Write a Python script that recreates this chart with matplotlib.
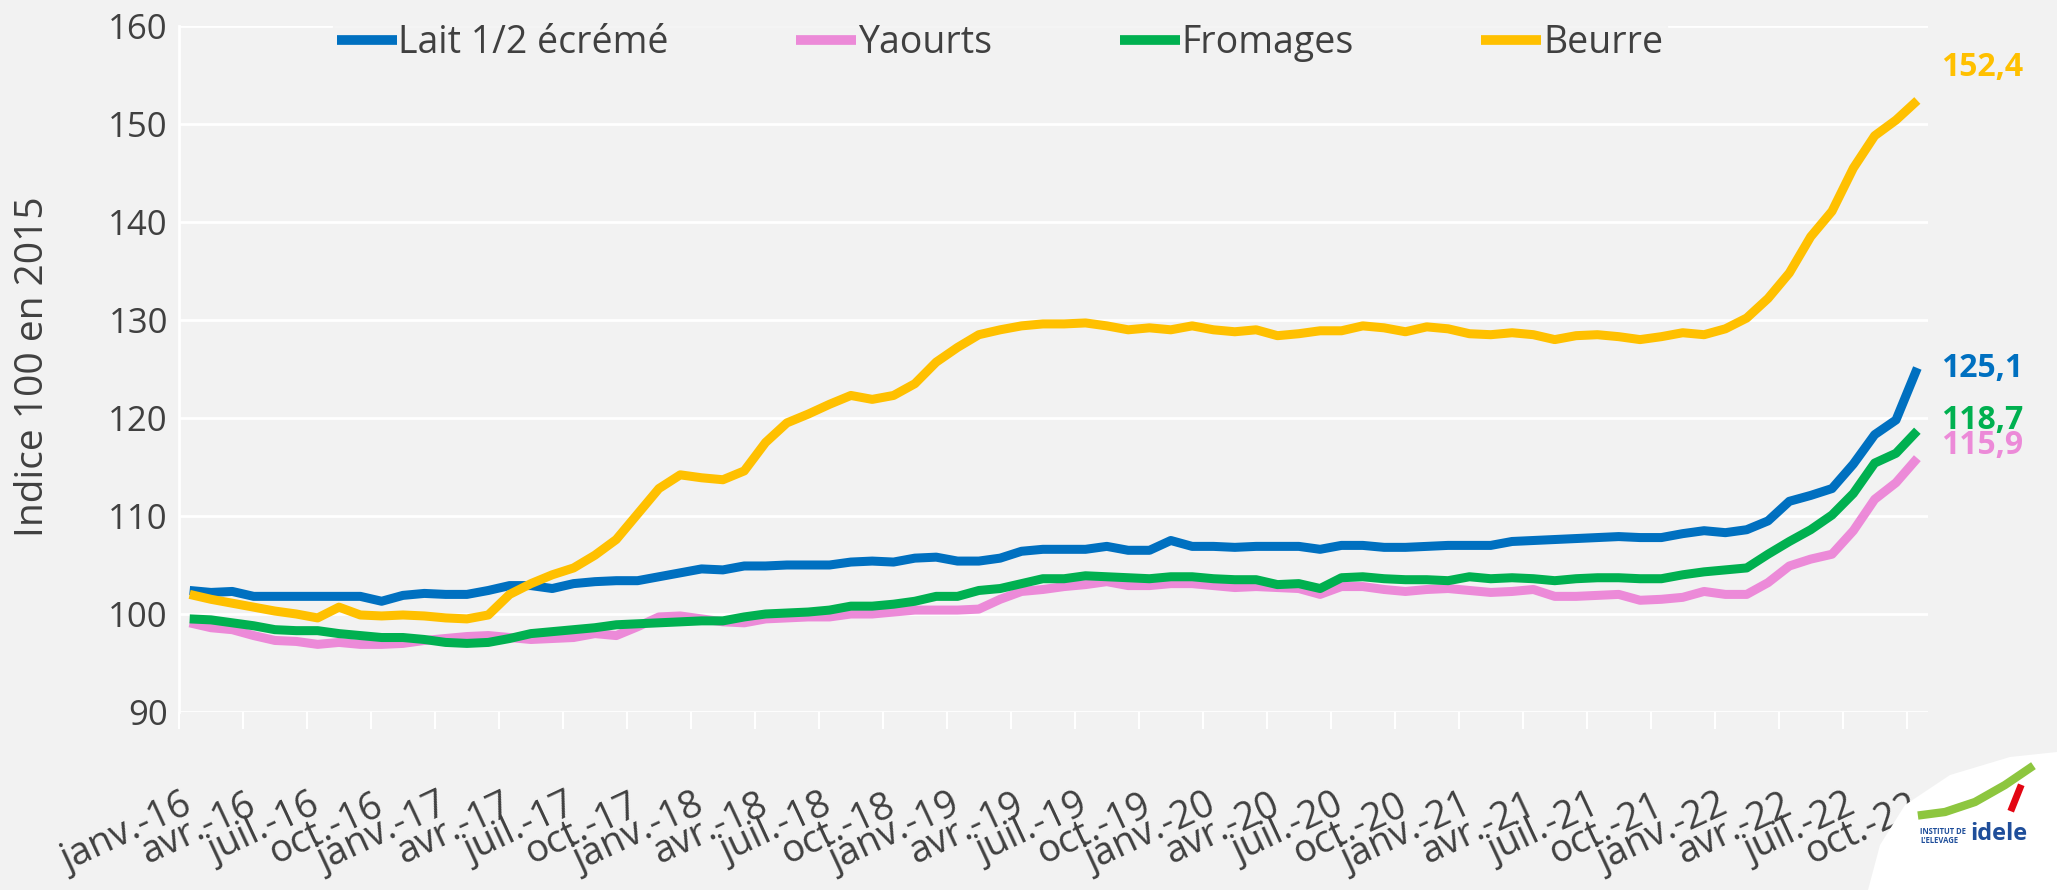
import matplotlib.pyplot as plt
import matplotlib.patches as mpatches
import numpy as np

plt.rcParams['font.family'] = ['Open Sans', 'DejaVu Sans']

# monthly index (base 100 in 2015), janv.-16 .. oct.-22
lait = [102.4, 102.2, 102.3, 101.8, 101.8, 101.8, 101.8, 101.8, 101.8, 101.3,
        101.9, 102.1, 102.0, 102.0, 102.4, 102.9, 102.9, 102.6, 103.1, 103.3,
        103.4, 103.4, 103.8, 104.2, 104.6, 104.5, 104.9, 104.9, 105.0, 105.0,
        105.0, 105.3, 105.4, 105.3, 105.7, 105.8, 105.4, 105.4, 105.7, 106.4,
        106.6, 106.6, 106.6, 106.9, 106.5, 106.5, 107.5, 106.9, 106.9, 106.8,
        106.9, 106.9, 106.9, 106.6, 107.0, 107.0, 106.8, 106.8, 106.9, 107.0,
        107.0, 107.0, 107.4, 107.5, 107.6, 107.7, 107.8, 107.9, 107.8, 107.8,
        108.2, 108.5, 108.3, 108.6, 109.5, 111.5, 112.1, 112.8, 115.3, 118.3,
        119.8, 125.1]
yaourts = [99.1, 98.6, 98.4, 97.8, 97.3, 97.2, 96.9, 97.1, 96.9, 96.9,
           97.0, 97.3, 97.5, 97.7, 97.8, 97.6, 97.4, 97.5, 97.6, 98.0,
           97.8, 98.7, 99.7, 99.8, 99.5, 99.2, 99.1, 99.5, 99.6, 99.7,
           99.7, 100.0, 100.0, 100.2, 100.4, 100.4, 100.4, 100.5, 101.5, 102.3,
           102.5, 102.8, 103.0, 103.3, 102.9, 102.9, 103.1, 103.1, 102.9, 102.7,
           102.8, 102.7, 102.6, 102.0, 102.8, 102.8, 102.5, 102.3, 102.5, 102.6,
           102.4, 102.2, 102.3, 102.5, 101.8, 101.8, 101.9, 102.0, 101.4, 101.5,
           101.7, 102.3, 102.0, 102.0, 103.2, 104.9, 105.6, 106.1, 108.5, 111.7,
           113.4, 115.9]
fromages = [99.5, 99.4, 99.1, 98.8, 98.4, 98.3, 98.3, 98.0, 97.8, 97.6,
            97.6, 97.4, 97.1, 97.0, 97.1, 97.5, 98.0, 98.2, 98.4, 98.6,
            98.9, 99.0, 99.1, 99.2, 99.3, 99.3, 99.7, 100.0, 100.1, 100.2,
            100.4, 100.8, 100.8, 101.0, 101.3, 101.8, 101.8, 102.4, 102.6, 103.1,
            103.6, 103.6, 103.9, 103.8, 103.7, 103.6, 103.8, 103.8, 103.6, 103.5,
            103.5, 103.0, 103.1, 102.6, 103.7, 103.8, 103.6, 103.5, 103.5, 103.4,
            103.8, 103.6, 103.7, 103.6, 103.4, 103.6, 103.7, 103.7, 103.6, 103.6,
            104.0, 104.3, 104.5, 104.7, 106.1, 107.4, 108.6, 110.1, 112.3, 115.4,
            116.4, 118.7]
beurre = [102.0, 101.5, 101.1, 100.7, 100.3, 100.0, 99.6, 100.7, 99.9, 99.8,
          99.9, 99.8, 99.6, 99.5, 99.9, 102.0, 103.1, 104.0, 104.7, 106.0,
          107.6, 110.2, 112.8, 114.2, 113.9, 113.7, 114.6, 117.5, 119.5, 120.4,
          121.4, 122.3, 121.9, 122.3, 123.5, 125.7, 127.2, 128.5, 129.0, 129.4,
          129.6, 129.6, 129.7, 129.4, 129.0, 129.2, 129.0, 129.4, 129.0, 128.8,
          129.0, 128.4, 128.6, 128.9, 128.9, 129.4, 129.2, 128.8, 129.3, 129.1,
          128.6, 128.5, 128.7, 128.5, 128.0, 128.4, 128.5, 128.3, 128.0, 128.3,
          128.7, 128.5, 129.1, 130.2, 132.2, 134.8, 138.5, 141.1, 145.5, 148.8,
          150.4, 152.4]

series_names = ['Lait 1/2 écrémé', 'Yaourts', 'Fromages', 'Beurre']
series_colors = ['#0070C0', '#EC8AD8', '#00B050', '#FFC000']
end_labels = ['125,1', '115,9', '118,7', '152,4']

mois = ['janv.', 'avr.', 'juil.', 'oct.']
annees = ['16', '17', '18', '19', '20', '21', '22']
tick_labels = [f'{m}-{a}' for a in annees for m in mois]

bg = '#F2F2F2'
txt = '#404040'

fig = plt.figure(figsize=(20.57, 8.9), dpi=100, facecolor=bg)
ax = fig.add_axes([179/2057, 1-712/890, (1928-179)/2057, (712-26)/890])
ax.set_facecolor(bg)

x = np.arange(len(lait))
data = [lait, yaourts, fromages, beurre]
for vals, name, col in zip(data, series_names, series_colors):
    ax.plot(x, vals, color=col, lw=6.5, label=name, solid_capstyle='butt')

ax.set_xlim(-0.5, len(lait) - 0.5)
ax.set_ylim(90, 160)
ax.set_yticks(range(90, 161, 10))
ax.grid(axis='y', color='white', lw=2)
ax.set_axisbelow(True)
for s in ['top', 'right', 'bottom']:
    ax.spines[s].set_visible(False)
ax.spines['left'].set_color('white')
ax.spines['left'].set_linewidth(2)
ax.tick_params(axis='y', length=0, labelsize=25, labelcolor=txt, pad=8)

ax.set_xticks(np.arange(0, len(lait), 3))
ax.set_xticklabels(tick_labels)
ax.set_xticks(np.arange(-0.5, len(lait) - 1, 3), minor=True)
ax.tick_params(axis='x', which='major', length=0, pad=66, labelsize=27.5,
               labelcolor=txt)
ax.tick_params(axis='x', which='minor', length=12, width=1.5, color='white',
               direction='out')
for lab in ax.get_xticklabels():
    lab.set_rotation(25)
    lab.set_ha('right')
    lab.set_va('center')
    lab.set_rotation_mode('anchor')

# end-of-series value labels
offsets = [(24, 0), (24, 13), (24, 10), (24, 33)]
for vals, col, lab, off in zip(data, series_colors, end_labels, offsets):
    ax.annotate(lab, xy=(x[-1], vals[-1]), xytext=off, textcoords='offset pixels',
                color=col, fontsize=23, fontweight='bold', ha='left', va='center',
                annotation_clip=False)

leg = fig.legend(loc='center', bbox_to_anchor=(1000/2057, 1-43/890), ncol=4,
                 frameon=True, facecolor=bg, edgecolor=bg, fontsize=27,
                 handlelength=1.6, handletextpad=0.05, columnspacing=3.4,
                 borderpad=0.1)
for t in leg.get_texts():
    t.set_color(txt)
for h in leg.get_lines():
    h.set_linewidth(7)

fig.text(33/2057, 1-367/890, 'Indice 100 en 2015', rotation=90, ha='center',
         va='center', fontsize=28, color=txt)

# logo (Institut de l'Elevage)
blob = mpatches.Polygon([(1868/2057, 0), (1880/2057, 1-845/890), (1905/2057, 1-805/890),
                         (1950/2057, 1-775/890), (2010/2057, 1-757/890), (1, 1-752/890), (1, 0)],
                        closed=True, transform=fig.transFigure, facecolor='white',
                        edgecolor='none', zorder=5)
fig.patches.append(blob)
sx = np.array([1922, 1945, 1975, 2005, 2030]) / 2057
sy = 1 - np.array([815, 812, 802, 785, 768]) / 890
fig.add_artist(plt.Line2D(sx, sy, color='#8DC63F', lw=6, transform=fig.transFigure, zorder=6))
fig.add_artist(plt.Line2D([2012/2057, 2020/2057], [1-808/890, 1-788/890], color='#E30613',
                          lw=5, transform=fig.transFigure, zorder=6))
fig.text(1920/2057, 1-836/890, "INSTITUT DE\nL'ELEVAGE", fontsize=5.5, fontweight='bold',
         color='#1F4E9A', ha='left', va='center', linespacing=1.0, zorder=7)
fig.text(1970/2057, 1-834/890, 'idele', fontsize=17, fontweight='bold', color='#1F4E9A',
         ha='left', va='center', zorder=7)

fig.savefig('out.png', dpi=100, facecolor=bg)
